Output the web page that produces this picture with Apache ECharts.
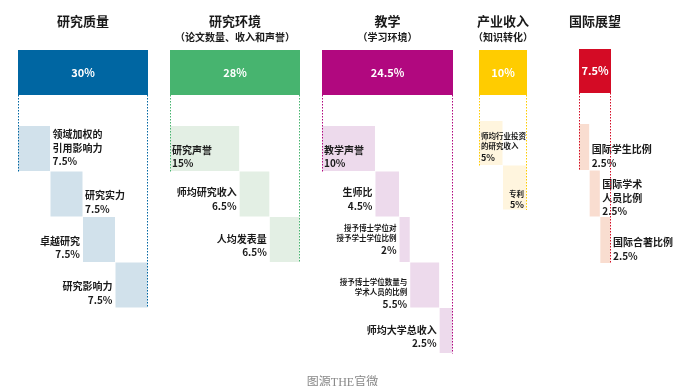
<!DOCTYPE html>
<html>
<head>
<meta charset="utf-8">
<script src="https://cdn.jsdelivr.net/npm/echarts@6/dist/echarts.min.js"></script>
<style>
  html, body { margin: 0; padding: 0; background: #fff; }
  #chart { width: 685px; height: 386px; }
</style>
</head>
<body>
<div id="chart"></div>
<script>
// 五大指标
const pillars = ['研究质量', '研究环境', '教学', '产业收入', '国际展望']
const pillarNotes = ['', '（论文数量、收入和声誉）', '（学习环境）', '（知识转化）', '']
const pillarWeights = [30, 28, 24.5, 10, 7.5]

// 各项细分指标
const metricNames = [
  ['领域加权的\n引用影响力', '研究实力', '卓越研究', '研究影响力'],
  ['研究声誉', '师均研究收入', '人均发表量'],
  ['教学声誉', '生师比', '授予博士学位对\n授予学士学位比例', '授予博士学位数量与\n学术人员的比例', '师均大学总收入'],
  ['师均行业投资\n的研究收入', '专利'],
  ['国际学生比例', '国际学术\n人员比例', '国际合著比例']
]
const metricWeights = [
  [7.5, 7.5, 7.5, 7.5],
  [15, 6.5, 6.5],
  [10, 4.5, 2, 5.5, 2.5],
  [5, 5],
  [2.5, 2.5, 2.5]
]

// 版式
const colX = [18, 170, 322, 479, 579]
const colW = [130, 130, 131, 48, 32]
const barTop = [50, 50, 50, 50, 49]
const barBottom = [95, 95, 95, 95, 93]
const rowTop = [126, 126, 126, 121, 124]
const rowH = [45.5, 45.5, 45.5, 44.5, 46.5]
const colors = ['#0066A2', '#47B46F', '#B1087F', '#FFCC00', '#D40B25']
const lightColors = ['#D1E1EB', '#E3EFE4', '#EDDAEC', '#FFF5DE', '#F9DDD0']
const labelSide = [
  ['right', 'right', 'left', 'left'],
  ['inside', 'left', 'left'],
  ['inside', 'left', 'left', 'left', 'left'],
  ['inside', 'insideRight'],
  ['right', 'right', 'right']
]
// 标签相对色块中心的垂直偏移
const labelDy = [
  [-1, 8, 8, 8],
  [8, 5, 6],
  [8, 5, 0, 9, 6],
  [4, 12],
  [9, 4, 9]
]
// 小字号的指标名
const smallName = [
  [false, false, false, false],
  [false, false, false],
  [false, false, true, true, false],
  [true, true],
  [false, false, false]
]

const FONT = '"Noto Sans CJK SC", "Noto Sans", sans-serif'

const chart = echarts.init(document.getElementById('chart'), null, { renderer: 'canvas' })

const metricData = []
metricWeights.forEach((ws, c) => ws.forEach((w, k) => metricData.push([c, k, w])))

const renderPillar = (params, api) => {
  const i = api.value(0)
  const p1 = api.coord([colX[i], barTop[i]])
  const p2 = api.coord([colX[i] + colW[i], barBottom[i]])
  const cx = (p1[0] + p2[0]) / 2
  const children = [
    {
      type: 'rect',
      shape: { x: p1[0], y: p1[1], width: p2[0] - p1[0], height: p2[1] - p1[1] },
      style: { fill: colors[i] }
    },
    {
      type: 'text',
      style: {
        text: pillarWeights[i] + '%', x: cx, y: (p1[1] + p2[1]) / 2,
        align: 'center', verticalAlign: 'middle',
        fill: '#fff', font: 'bold 11px ' + FONT
      }
    },
    {
      type: 'text',
      style: {
        text: pillars[i], x: cx, y: api.coord([0, 21])[1],
        align: 'center', verticalAlign: 'middle',
        fill: '#1a1a1a', font: 'bold 13px ' + FONT
      }
    }
  ]
  if (pillarNotes[i]) {
    children.push({
      type: 'text',
      style: {
        text: pillarNotes[i], x: cx, y: api.coord([0, 37])[1],
        align: 'center', verticalAlign: 'middle',
        fill: '#1a1a1a', font: 'bold 10px ' + FONT
      }
    })
  }
  return { type: 'group', children }
}

const renderLines = (params, api) => {
  const i = api.value(0)
  const n = metricWeights[i].length
  const left = api.coord([colX[i], barBottom[i]])
  const leftEnd = api.coord([colX[i], rowTop[i] + rowH[i]])
  const right = api.coord([colX[i] + colW[i], barBottom[i]])
  const rightEnd = api.coord([colX[i] + colW[i], rowTop[i] + rowH[i] * n])
  const st = { stroke: colors[i], lineWidth: 1, lineDash: [1.5, 1.5] }
  return {
    type: 'group',
    children: [
      { type: 'line', shape: { x1: left[0] + 0.5, y1: left[1], x2: leftEnd[0] + 0.5, y2: leftEnd[1] }, style: st },
      { type: 'line', shape: { x1: right[0] - 0.5, y1: right[1], x2: rightEnd[0] - 0.5, y2: rightEnd[1] }, style: st }
    ]
  }
}

const renderMetric = (params, api) => {
  const c = api.value(0)
  const k = api.value(1)
  const ws = metricWeights[c]
  const total = ws.reduce((a, b) => a + b, 0)
  const before = ws.slice(0, k).reduce((a, b) => a + b, 0)
  const x0 = colX[c] + before / total * colW[c]
  const x1 = colX[c] + (before + api.value(2)) / total * colW[c]
  const y0 = rowTop[c] + rowH[c] * k
  const p1 = api.coord([x0, y0])
  const p2 = api.coord([x1, y0 + rowH[c]])

  const nameLines = metricNames[c][k].split('\n')
  const tag = smallName[c][k] ? 's' : 'n'
  const text = nameLines.map(l => '{' + tag + '|' + l + '}').join('\n') +
    '\n{' + (c === 3 ? 'm' : 'n') + '|' + ws[k] + '%}'

  const side = labelSide[c][k]
  let tx, align
  if (side === 'right') { tx = p2[0] + 2; align = 'left' }
  else if (side === 'left') { tx = p1[0] - 3; align = 'right' }
  else if (side === 'inside') { tx = p1[0] + 2; align = 'left' }
  else { tx = p2[0] - 3; align = 'right' }
  const ty = (p1[1] + p2[1]) / 2 + labelDy[c][k]

  return {
    type: 'group',
    children: [
      {
        type: 'rect',
        shape: { x: p1[0], y: p1[1], width: p2[0] - p1[0] - 0.5, height: p2[1] - p1[1] - 0.5 },
        style: { fill: lightColors[c] }
      },
      {
        type: 'text',
        z2: 10,
        style: {
          text, x: tx, y: ty, align, verticalAlign: 'middle',
          rich: {
            n: { font: 'bold 10px ' + FONT, fill: '#1a1a1a', lineHeight: 13.5, align },
            s: { font: 'bold 7.5px ' + FONT, fill: '#1a1a1a', lineHeight: 10, align },
            m: { font: 'bold 9px ' + FONT, fill: '#1a1a1a', lineHeight: 11.5, align }
          }
        }
      }
    ]
  }
}

chart.setOption({
  backgroundColor: '#fff',
  animation: false,
  title: {
    text: '图源THE官微',
    left: 'center',
    top: 372,
    textStyle: { fontSize: 12, color: '#888', fontWeight: 'normal', fontFamily: '"Liberation Serif", "Noto Sans CJK SC", serif' }
  },
  grid: { left: 0, right: 0, top: 0, bottom: 0 },
  xAxis: { type: 'value', min: 0, max: 685, show: false },
  yAxis: { type: 'value', min: 0, max: 386, inverse: true, show: false },
  series: [
    {
      type: 'custom',
      clip: false,
      data: pillarWeights.map((w, i) => [i, w]),
      renderItem: renderPillar,
      z: 1
    },
    {
      type: 'custom',
      clip: false,
      data: metricData,
      renderItem: renderMetric,
      z: 2
    },
    {
      type: 'custom',
      clip: false,
      data: pillarWeights.map((w, i) => [i, w]),
      renderItem: renderLines,
      z: 3
    }
  ]
})
</script>
</body>
</html>
